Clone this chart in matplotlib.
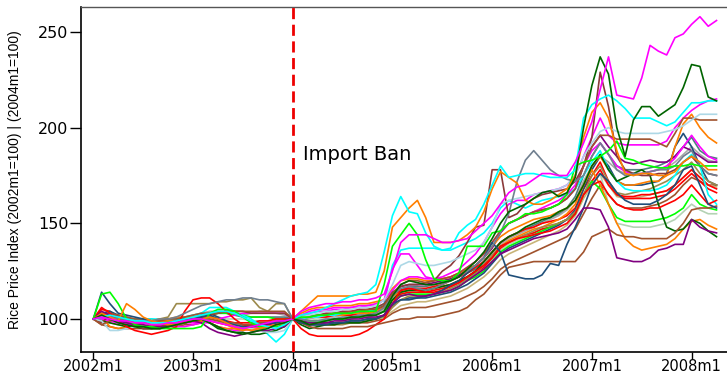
import numpy as np
import matplotlib
matplotlib.use("Agg")
import matplotlib.pyplot as plt

# months counted from 2002m1 (0) ; index rebased at 2002m1 and again at 2004m1
m_pre = np.arange(0, 25)     # 2002m1 .. 2004m1
m_post = np.arange(24, 76)   # 2004m1 .. 2008m4

tick_pos = [0, 12, 24, 36, 48, 60, 72]
tick_lab = ["2002m1", "2003m1", "2004m1", "2005m1", "2006m1", "2007m1", "2008m1"]
y_ticks = [100, 150, 200, 250]
ban_month = 24

# ---- series (pre: 2002m1-2004m1, post: 2004m1-2008m4) ----
mag1_pre = [100,101,100,99,99,98,98,97,97,98,98,99,100,100,99,98,97,96,95,96,97,98,99,99,100]
mag1_post = [100,104,106,107,108,108,109,109,110,110,111,113,
             125,140,144,144,144,142,140,140,141,142,146,150,
             154,160,166,169,170,173,176,176,175,175,182,192,
             203,220,237,217,216,215,226,243,240,238,247,249,
             254,258,253,256]

dgrn1_pre = [100,102,100,98,97,96,96,95,95,96,97,98,99,100,98,96,94,93,92,93,94,95,97,98,100]
dgrn1_post = [100,99,97,98,99,100,100,101,101,102,102,104,
              112,118,120,119,118,118,119,120,122,126,130,135,
              142,150,156,158,160,163,166,167,164,166,174,200,
              222,237,228,200,185,204,211,211,206,209,212,221,
              233,232,216,214]

cyan1_pre = [100,101,102,101,100,99,99,98,98,98,99,100,101,102,103,104,104,103,101,99,97,96,95,97,100]
cyan1_post = [100,102,103,104,106,108,110,112,113,114,118,135,
              154,164,156,155,145,138,136,137,145,149,152,160,
              170,180,174,175,176,176,175,174,174,174,178,205,
              212,215,217,214,210,205,205,205,203,201,203,208,
              213,213,214,214]

orng1_pre = [100,103,101,99,108,105,101,99,98,97,97,98,99,100,101,100,98,96,95,94,95,96,97,98,100]
orng1_post = [100,104,108,112,112,112,112,112,113,113,114,125,
              148,153,158,162,153,140,140,140,141,144,148,156,
              168,177,174,171,162,160,160,162,165,168,175,195,
              208,213,205,188,176,175,176,176,175,175,177,182,
              185,182,178,178]

lime1_pre = [100,113,114,108,100,97,96,96,95,95,95,95,95,96,103,105,105,104,101,98,96,96,96,97,100]
lime1_post = [100,101,101,102,102,103,103,103,104,104,104,118,
              138,144,150,144,131,121,120,120,124,138,138,138,
              145,146,150,152,155,155,156,158,160,165,180,182,
              183,185,188,193,184,183,181,180,179,179,180,180,
              181,180,180,180]

slate1_pre = [100,101,101,100,100,99,99,99,100,100,101,103,105,107,108,109,110,110,111,111,110,110,109,108,100]
slate1_post = [100,100,99,99,100,100,101,101,102,102,103,106,
               112,116,117,116,115,116,118,120,122,125,128,132,
               138,145,155,172,183,188,183,178,175,173,172,175,
               185,192,186,178,175,176,176,177,178,178,180,185,
               188,180,176,175]

purp1_pre = [100,104,102,99,98,97,97,96,96,96,97,98,99,98,95,93,92,91,92,93,94,94,95,96,100]
purp1_post = [100,99,98,98,98,99,99,100,100,101,101,102,
              108,112,113,112,112,113,114,115,117,120,123,126,
              130,134,136,138,140,142,143,144,145,147,152,158,
              158,157,148,132,131,130,130,132,136,137,139,139,
              152,148,146,145]

navy1_pre = [100,114,108,103,102,101,100,99,98,98,99,100,100,101,102,100,98,97,96,96,97,98,98,99,100]
navy1_post = [100,98,97,97,97,98,98,99,99,100,100,102,
              108,110,110,111,112,113,115,118,120,124,128,132,
              140,135,123,122,121,121,123,129,128,139,148,158,
              170,176,172,166,162,160,160,160,162,165,170,178,
              180,170,160,158]

sien1_pre = [100,97,99,100,99,98,98,97,97,97,98,99,99,100,100,99,98,98,97,97,98,98,99,99,100]
sien1_post = [100,98,96,95,95,95,95,96,96,96,97,98,
              99,100,100,101,101,101,102,103,104,106,110,113,
              118,123,127,128,129,130,130,130,130,130,130,135,
              143,145,147,144,143,143,142,142,142,142,145,150,
              157,158,158,159]

red1_pre = [100,106,103,99,96,94,93,92,93,94,96,104,110,111,111,108,104,100,97,96,97,98,99,99,100]
red1_post = [100,95,92,91,91,91,91,91,92,94,97,100,
             108,115,116,115,114,114,115,117,119,122,125,128,
             132,138,140,142,143,144,145,146,148,150,155,165,
             170,172,165,160,158,157,157,158,158,160,162,165,
             170,165,160,162]

lblue1_pre = [100,99,94,94,95,96,97,98,98,98,99,99,100,100,100,99,98,97,96,95,94,93,93,94,100]
lblue1_post = [100,101,102,103,104,104,105,105,106,106,107,110,
               118,128,130,129,128,128,129,130,132,134,136,140,
               148,160,162,163,164,165,166,167,168,170,175,185,
               192,198,200,198,197,197,197,197,197,198,199,201,
               204,207,207,207]

brown1_pre = [100,102,103,102,101,100,100,99,99,100,100,101,102,103,103,103,104,104,104,104,104,104,104,104,100]
brown1_post = [100,101,101,102,102,103,103,104,104,105,105,107,
               113,118,120,120,119,120,121,122,124,127,130,134,
               140,146,150,152,154,156,157,158,160,163,168,180,
               190,196,196,194,194,194,194,194,192,190,197,205,
               205,204,204,204]

maroon1_pre = [100,98,102,101,99,97,95,95,96,97,98,99,100,101,102,103,104,104,104,103,103,103,103,103,100]
maroon1_post = [100,101,102,102,103,103,104,104,105,105,106,108,
                114,117,118,118,119,120,125,128,133,140,148,149,
                178,178,153,155,160,163,165,166,167,168,172,180,
                195,229,211,185,178,176,175,175,176,176,178,182,
                185,180,176,175]

mag2_pre = [100,101,99,98,97,97,97,98,98,97,96,96,97,98,99,100,101,102,103,103,103,103,103,103,100]
mag2_post = [100,102,103,104,104,105,105,106,106,107,107,110,
             115,120,122,122,121,121,122,124,126,130,134,140,
             148,155,160,162,162,165,166,167,168,170,175,185,
             195,205,196,192,191,191,191,191,191,193,200,205,
             209,212,214,215]

dgrn2_pre = [100,99,98,97,96,96,95,95,95,96,97,98,99,100,98,95,94,93,93,92,92,93,94,96,100]
dgrn2_post = [100,97,95,96,97,97,98,98,98,99,100,102,
              110,114,115,115,115,116,117,118,120,122,125,130,
              135,140,143,145,148,150,152,153,156,158,162,170,
              180,186,178,172,174,176,178,175,160,148,146,147,
              152,150,146,143]

orng2_pre = [100,102,101,100,100,99,99,99,100,100,101,101,101,100,98,96,95,95,94,95,95,96,97,98,100]
orng2_post = [100,103,105,106,106,107,107,107,108,108,109,110,
              116,120,121,121,120,120,121,122,124,126,128,132,
              138,143,146,148,150,152,153,154,156,158,162,170,
              178,170,160,150,142,138,136,137,138,139,142,147,
              151,152,149,147]

khaki1_pre = [100,101,100,100,99,99,99,99,100,101,108,108,108,108,108,109,109,110,110,111,106,104,108,108,100]
khaki1_post = [100,99,98,97,97,97,97,98,98,99,100,101,
               106,110,112,112,112,113,114,116,118,121,124,128,
               133,138,140,142,144,146,148,149,150,152,156,165,
               175,180,172,166,165,166,167,168,170,172,175,178,
               182,176,172,170]

cyan2_pre = [100,100,99,99,99,100,100,100,100,100,100,101,102,103,106,106,106,104,102,100,97,92,88,92,100]
cyan2_post = [100,100,101,101,102,102,103,103,104,104,105,108,
              128,136,137,137,137,137,136,136,138,140,142,145,
              150,158,162,160,158,160,162,163,164,165,168,175,
              182,188,178,172,168,167,167,167,168,170,175,182,
              186,180,165,160]

red2_pre = [100,105,104,101,99,98,97,97,97,98,98,99,100,101,101,100,99,98,98,98,99,99,100,100,100]
red2_post = [100,100,101,101,101,102,102,102,103,103,104,106,
             112,115,116,116,116,117,118,120,122,124,127,130,
             135,140,143,145,147,148,150,151,152,154,158,168,
             175,182,172,165,163,163,163,163,164,165,168,172,
             176,172,168,166]

lime2_pre = [100,100,100,99,99,98,98,98,99,99,99,100,101,101,102,103,103,102,102,101,101,101,100,100,100]
lime2_post = [100,100,99,99,99,100,100,100,101,101,102,104,
              110,112,113,113,113,113,114,115,117,120,122,125,
              130,135,138,140,142,144,146,148,150,152,155,165,
              172,168,160,153,151,151,151,151,152,153,155,158,
              165,160,158,157]

purp2_pre = [100,103,102,100,99,99,98,98,98,98,99,99,100,101,101,100,98,96,95,95,96,97,98,99,100]
purp2_post = [100,101,101,102,102,102,103,103,104,104,105,107,
              113,117,118,118,118,119,120,121,123,126,128,132,
              137,145,150,152,154,156,157,158,160,163,168,180,
              190,196,190,185,182,181,182,183,182,182,185,190,
              188,185,182,182]

navy2_pre = [100,103,104,102,100,99,99,98,98,98,99,100,100,102,103,101,99,96,95,96,97,98,98,99,100]
navy2_post = [100,98,97,97,98,98,98,99,99,100,100,102,
              107,110,111,111,111,112,113,114,116,118,121,124,
              129,134,137,139,141,143,145,147,149,152,157,168,
              178,185,180,172,170,170,170,171,172,176,190,197,
              190,180,172,170]

orng3_pre = [100,101,96,95,96,97,98,99,99,99,99,99,99,99,100,99,97,95,95,94,95,96,97,98,100]
orng3_post = [100,101,101,101,102,102,102,103,103,103,104,106,
              112,114,115,115,115,116,117,118,120,122,125,128,
              133,138,141,143,145,147,148,150,152,155,160,170,
              180,185,178,172,170,170,171,172,172,175,190,202,
              207,200,195,192]

lgrn_pre = [100,100,101,101,100,100,99,99,99,99,100,100,101,101,101,101,100,100,100,99,99,99,99,99,100]
lgrn_post = [100,99,99,100,100,100,101,101,101,102,102,104,
             110,113,114,114,114,115,116,117,119,121,123,126,
             131,136,139,141,143,145,147,148,150,152,156,165,
             172,176,160,150,149,148,148,148,149,150,152,156,
             160,157,155,155]

gray2_pre = [100,101,102,102,101,100,100,99,99,99,100,101,102,103,104,104,104,103,102,103,104,104,103,102,100]
gray2_post = [100,100,100,101,101,101,102,102,102,103,103,105,
              111,114,115,115,115,116,117,118,120,122,125,129,
              134,139,142,144,146,148,150,152,154,157,162,172,
              180,185,182,178,176,175,176,177,178,179,182,186,
              190,186,183,182]

tan_pre = [100,99,98,97,97,96,96,96,97,97,98,99,100,100,100,99,98,97,97,97,98,98,98,99,100]
tan_post = [100,99,98,98,98,98,99,99,99,100,100,101,
            104,107,108,109,109,110,111,112,114,116,119,122,
            126,131,134,136,138,140,142,144,146,149,154,163,
            170,176,170,164,163,163,164,165,166,167,170,174,
            178,174,170,169]

red3_pre = [100,102,101,100,99,98,98,97,97,97,98,98,99,99,99,98,97,97,96,96,97,97,98,99,100]
red3_post = [100,101,101,101,102,102,103,103,103,104,104,106,
             110,113,114,114,114,115,116,117,119,121,124,127,
             132,137,140,142,144,145,147,148,150,152,156,165,
             172,178,170,165,164,164,165,165,166,167,170,174,
             178,174,170,168]

sien2_pre = [100,97,96,95,95,95,95,95,95,96,96,97,97,98,99,99,98,97,97,97,98,98,98,99,100]
sien2_post = [100,98,97,97,97,97,98,98,98,98,99,100,
              103,105,106,106,106,107,108,109,110,112,114,117,
              121,126,129,131,133,135,137,139,141,143,147,155,
              163,170,165,160,158,158,158,159,160,162,165,170,
              174,172,170,170]

teal_pre = [100,100,101,101,100,100,100,100,99,99,100,100,101,102,103,103,103,102,101,101,101,101,101,101,100]
teal_post = [100,101,101,102,102,102,103,103,104,104,105,107,
             112,115,117,117,117,118,119,120,122,124,126,130,
             135,140,143,145,147,149,151,153,155,158,164,175,
             185,192,186,180,178,178,178,179,180,182,185,190,
             195,188,185,184]

mag3_pre = [100,100,99,98,98,98,98,98,98,98,98,98,98,98,98,96,95,94,94,95,96,96,97,98,100]
mag3_post = [100,102,104,105,105,106,106,106,107,107,108,110,
             126,134,134,128,122,121,121,122,124,127,130,134,
             140,146,150,152,154,156,158,160,162,165,170,180,
             188,192,186,180,177,176,176,177,178,180,184,190,
             196,190,185,183]

series = [
    (sien2_pre, sien2_post, "#a0522d"),
    (tan_pre, tan_post, "#c8b478"),
    (lgrn_pre, lgrn_post, "#b4d2b4"),
    (red3_pre, red3_post, "#ff0000"),
    (gray2_pre, gray2_post, "#a9a9a9"),
    (teal_pre, teal_post, "#4f7f7f"),
    (lime2_pre, lime2_post, "#00ff00"),
    (red2_pre, red2_post, "#ff0000"),
    (purp2_pre, purp2_post, "#800080"),
    (navy2_pre, navy2_post, "#1f4e79"),
    (orng3_pre, orng3_post, "#ff7f00"),
    (khaki1_pre, khaki1_post, "#9c8a4c"),
    (cyan2_pre, cyan2_post, "#00ffff"),
    (mag3_pre, mag3_post, "#ff00ff"),
    (orng2_pre, orng2_post, "#ff7f00"),
    (dgrn2_pre, dgrn2_post, "#006400"),
    (mag2_pre, mag2_post, "#ff00ff"),
    (maroon1_pre, maroon1_post, "#8b3a3a"),
    (brown1_pre, brown1_post, "#a0522d"),
    (lblue1_pre, lblue1_post, "#add8e6"),
    (red1_pre, red1_post, "#ff0000"),
    (sien1_pre, sien1_post, "#a0522d"),
    (navy1_pre, navy1_post, "#1f4e79"),
    (purp1_pre, purp1_post, "#800080"),
    (slate1_pre, slate1_post, "#708090"),
    (lime1_pre, lime1_post, "#00ff00"),
    (orng1_pre, orng1_post, "#ff7f00"),
    (cyan1_pre, cyan1_post, "#00ffff"),
    (dgrn1_pre, dgrn1_post, "#006400"),
    (mag1_pre, mag1_post, "#ff00ff"),
]

fig = plt.figure(figsize=(7.27, 3.73), dpi=100)
ax = fig.add_axes([0.1114, 0.0571, 0.8886, 0.9233])

for pre, post, col in series:
    ax.plot(m_pre, pre, color=col, lw=1.2)
    ax.plot(m_post, post, color=col, lw=1.2)

# import ban marker
ax.axvline(ban_month, color="#ee0000", lw=2, dashes=(4, 2), zorder=5)
ax.text(ban_month + 1.2, 186, "Import Ban", fontsize=14, ha="left", va="center",
        family="DejaVu Sans")

ax.set_xlim(-1.48, 76.26)
ax.set_ylim(82.9, 262.9)
ax.set_xticks(tick_pos)
ax.set_xticklabels(tick_lab)
ax.set_yticks(y_ticks)
for lab in ax.get_xticklabels():
    lab.set_family("DejaVu Sans")
    lab.set_fontsize(10.5)
for lab in ax.get_yticklabels():
    lab.set_family("DejaVu Sans")
    lab.set_fontsize(11.5)
ax.tick_params(axis="x", length=5, width=1, pad=0.5)
ax.tick_params(axis="y", length=8, width=1, pad=1)

ax.spines["right"].set_visible(False)
ax.spines["top"].set_color("#555555")
ax.spines["top"].set_linewidth(1)
ax.spines["left"].set_linewidth(1.2)
ax.spines["bottom"].set_linewidth(1.2)

fig.text(15 / 727, 1 - 180 / 373, "Rice Price Index (2002m1=100) | (2004m1=100)",
         rotation=90, ha="center", va="center", fontsize=10,
         family="Liberation Sans")

fig.savefig("out.png", dpi=100)
